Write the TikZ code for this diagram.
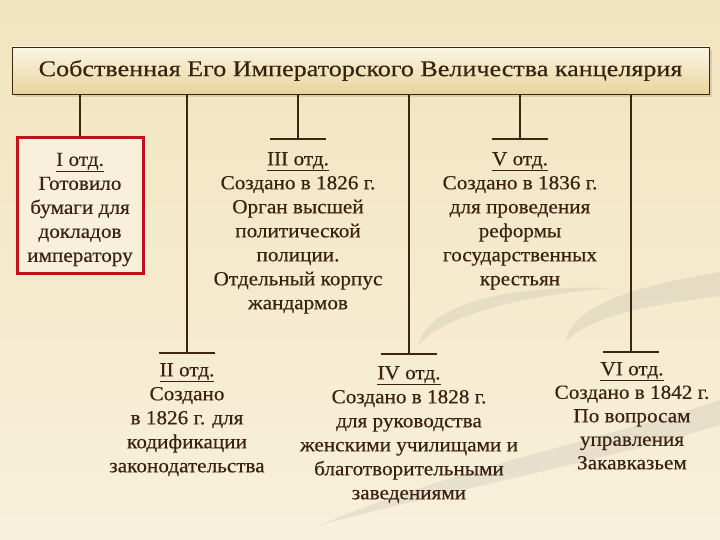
\documentclass[tikz,border=0pt]{standalone}
\usepackage{fontspec}
\setmainfont{Liberation Serif}
\newfontfamily\boxfont[FakeStretch=1.06,FakeBold=0.4]{Liberation Serif}
\newfontfamily\titlefont[FakeStretch=1.16,FakeBold=0.4]{Liberation Serif}
\usetikzlibrary{positioning}
\definecolor{bgtop}{HTML}{F2E4BF}
\definecolor{bgbot}{HTML}{F8F0DB}
\definecolor{boxtop}{HTML}{FBF6E4}
\definecolor{boxbot}{HTML}{E8D49C}
\definecolor{linebrown}{HTML}{3E2512}
\definecolor{textbrown}{HTML}{3A2211}
\definecolor{redframe}{HTML}{C0121B}
\begin{document}
\begin{tikzpicture}[x=1pt,y=-1pt,
    line/.style={draw=linebrown,line width=2.4pt},
    swoosh/.style={fill=gray,opacity=0.13},
    otd/.style={align=center,text=textbrown,inner sep=0pt,anchor=north,
      font=\boxfont\fontsize{20}{24}\selectfont},
    redbox/.style={draw=redframe,line width=3pt,fill=bgbot,
      minimum width=126pt,minimum height=135pt},
    title/.style={draw=linebrown,line width=0.8pt,top color=boxtop,bottom color=boxbot,
      minimum width=697pt,minimum height=47pt,text=textbrown,
      font=\titlefont\fontsize{22.5}{26}\selectfont}]
    \shade[top color=bgtop,bottom color=bgbot] (0,0) rectangle (720,540);
    \useasboundingbox (0,0) rectangle (720,540);
    \fill[swoosh] (418,345) .. controls (430,300) and (520,285) .. (610,288)
      .. controls (520,296) and (445,315) .. (418,345);
    \fill[swoosh] (565,342) .. controls (575,300) and (650,284) .. (720,272)
      -- (720,296) .. controls (650,305) and (592,315) .. (565,342);
    \fill[swoosh] (320,525) .. controls (450,470) and (600,440) .. (720,400)
      -- (720,425) .. controls (600,462) and (450,490) .. (320,525);
    \fill[gray,opacity=0.25] (15,50) rectangle (712,97);
    \node[title] (title) at (360.5,70.5) {Собственная Его Императорского Величества канцелярия};
    \node[redbox] (d1) at (80,205.5) {};
    \node[otd,anchor=center] (d1t) at ([yshift=-4pt]d1.center)
      {\underline{I отд.}\\Готовило\\бумаги для\\докладов\\императору};
    \node[otd] (d3) at (298,152) {\underline{III отд.}\\Создано в 1826 г.\\Орган высшей\\политической\\полиции.\\Отдельный корпус\\жандармов};
    \node[otd] (d5) at (520,152) {\underline{V отд.}\\Создано в 1836 г.\\для проведения\\реформы\\государственных\\крестьян};
    \node[otd] (d2) at (187,363) {\underline{II отд.}\\Создано\\в 1826 г. для\\кодификации\\законодательства};
    \node[otd] (d4) at (409,366) {\underline{IV отд.}\\Создано в 1828 г.\\для руководства\\женскими училищами и\\благотворительными\\заведениями};
    \node[otd,font=\boxfont\fontsize{20}{23.5}\selectfont] (d6) at (632,362) {\underline{VI отд.}\\Создано в 1842 г.\\По вопросам\\управления\\Закавказьем};
    \coordinate (b3) at (298,139);
    \coordinate (b5) at (520,139);
    \coordinate (b2) at (187,353);
    \coordinate (b4) at (409,354);
    \coordinate (b6) at (631,352);
    \draw[line] (title.south -| d1.north) -- (d1.north);
    \foreach \b in {b2,b3,b4,b5,b6} {
      \draw[line] (title.south -| \b) -- (\b);
      \draw[line] ([xshift=-28pt]\b) -- ([xshift=28pt]\b);
    }
\end{tikzpicture}
\end{document}
